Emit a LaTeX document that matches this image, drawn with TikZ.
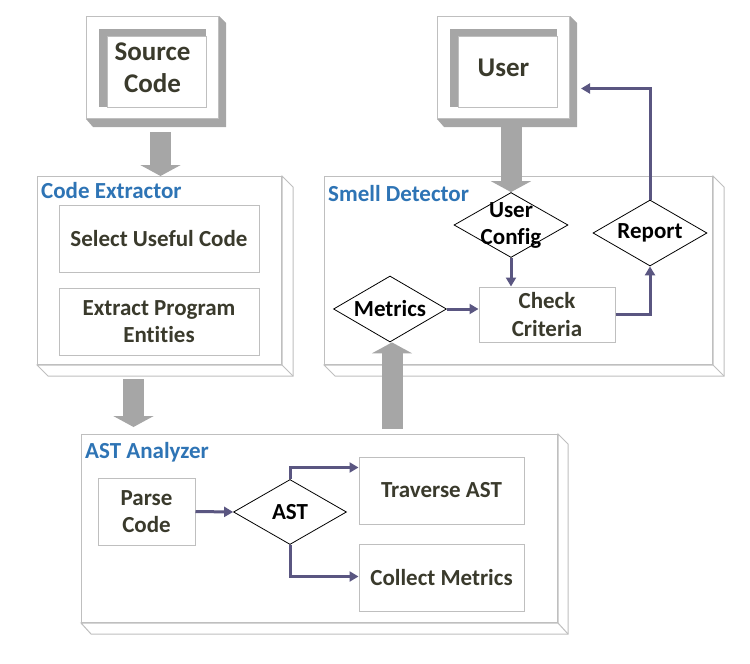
\documentclass[tikz,border=0pt]{standalone}
\usepackage{fontspec}
\setmainfont{Carlito}[Ligatures=NoCommon]
\usetikzlibrary{shapes.geometric,arrows.meta,calc}
\definecolor{txt}{HTML}{3A3A2C}
\definecolor{ttl}{HTML}{2E74B5}
\definecolor{bev}{HTML}{A6A6A6}
\definecolor{edge}{HTML}{BFBFBF}
\definecolor{flow}{HTML}{5A5681}
\begin{document}
\begin{tikzpicture}[x=1pt,y=-1pt,
  bevface/.style={draw=edge, line width=1, fill=white, inner sep=0, anchor=north west, minimum width=132, minimum height=102},
  cont/.style={draw=edge, line width=1, fill=white, inner sep=0, anchor=north west},
  contside/.style={draw=edge, line width=1, fill=white},
  title/.style={text=ttl, font=\fontsize{23}{28}\selectfont\bfseries, anchor=west, inner sep=0},
  bigtxt/.style={text=txt, font=\fontsize{27}{32}\selectfont\bfseries, align=center, inner sep=0},
  procbox/.style={draw=edge, line width=1, fill=white, inner sep=0, text=txt, align=center, font=\fontsize{23}{27.5}\selectfont\bfseries},
  decision/.style={diamond, draw=black, line width=0.8, fill=white, inner sep=0, minimum width=114, minimum height=65},
  dlabel/.style={label={[font=\fontsize{23}{27}\selectfont\bfseries, align=center, text=black, inner sep=0]center:#1}},
  block/.style={draw=bev, line width=21, -{Triangle[width=40pt,length=11pt]}},
  flowline/.style={draw=flow, line width=3, -{Triangle[width=10pt,length=9pt]}}
]
\useasboundingbox (0,0) rectangle (750,664);

% ---------- Source Code ----------
\node[bevface] (src) at (86,16) {};
\fill[bev] (src.north east) -- ++(7,7) -- ($(src.south east)+(7,8)$) -- ($(src.south west)+(7,8)$) -- (src.south west) -- (src.south east) -- cycle;
\fill[bev] ($(src.north west)+(13,13)$) rectangle ($(src.south east)+(-13,-12)$);
\draw[edge, fill=white, line width=1] ($(src.north west)+(21,20)$) rectangle ($(src.south east)+(-13,-12)$);
\node[bigtxt] (srct) at (src.center) {Source\\Code};

% ---------- User ----------
\node[bevface] (usr) at (437,16) {};
\fill[bev] (usr.north east) -- ++(7,7) -- ($(usr.south east)+(7,8)$) -- ($(usr.south west)+(7,8)$) -- (usr.south west) -- (usr.south east) -- cycle;
\fill[bev] ($(usr.north west)+(13,13)$) rectangle ($(usr.south east)+(-13,-12)$);
\draw[edge, fill=white, line width=1] ($(usr.north west)+(21,20)$) rectangle ($(usr.south east)+(-13,-12)$);
\node[bigtxt] (usrt) at (usr.center) {User};

% ---------- Code Extractor ----------
\node[cont, minimum width=244, minimum height=188] (ce) at (37,176) {};
\draw[contside] (ce.north east) -- ++(11,11) -- ($(ce.south east)+(11,11)$) -- ($(ce.south west)+(11,11)$) -- (ce.south west) -- (ce.south east) -- cycle;
\draw[edge, line width=1] (ce.south east) -- ++(11,11);
\node[title] (cet) at (41,191) {Code Extractor};
\node[procbox, minimum width=200, minimum height=67] (sel) at (159,238.5) {Select Useful Code};
\node[procbox, minimum width=200, minimum height=67] (ext) at (159,321.5) {Extract Program\\Entities};

% ---------- Smell Detector ----------
\node[cont, minimum width=388, minimum height=188] (sd) at (324,176) {};
\draw[contside] (sd.north east) -- ++(11,11) -- ($(sd.south east)+(11,11)$) -- ($(sd.south west)+(11,11)$) -- (sd.south west) -- (sd.south east) -- cycle;
\draw[edge, line width=1] (sd.south east) -- ++(11,11);
\node[title] (sdt) at (328,194) {Smell Detector};
\node[decision, dlabel={User\\Config}] (ucfg) at (511,225) {};
\node[decision, dlabel={Report}, minimum height=66] (rep) at (650,233) {};
\node[decision, dlabel={Metrics}, minimum width=113, minimum height=66] (met) at (390,309) {};
\node[procbox, minimum width=136, minimum height=55] (chk) at (547,314.5) {Check\\Criteria};

% ---------- AST Analyzer ----------
\node[cont, minimum width=476, minimum height=188] (aa) at (81,434) {};
\draw[contside] (aa.north east) -- ++(10,10) -- ($(aa.south east)+(10,11)$) -- ($(aa.south west)+(10,11)$) -- (aa.south west) -- (aa.south east) -- cycle;
\draw[edge, line width=1] (aa.south east) -- ++(10,11);
\node[title] (aat) at (85,452) {AST Analyzer};
\node[procbox, minimum width=97, minimum height=67] (parse) at (146.5,511.5) {Parse\\Code};
\node[decision, dlabel={AST}, minimum width=113] (ast) at (290,512) {};
\node[procbox, minimum width=165, minimum height=67] (trav) at (441.5,490.5) {Traverse AST};
\node[procbox, minimum width=165, minimum height=67] (coll) at (441.5,577.5) {Collect Metrics};

% ---------- flow connectors ----------
\coordinate (travin) at ($(trav.north west)+(0,11)$);
\coordinate (collin) at ($(coll.south west)+(0,-35)$);
\coordinate (usrin) at ($(usr.east)+(11,21)$);
\draw[flowline] (parse.east) -- (ast.west);
\draw[flowline] (ast.north) |- (travin);
\draw[flowline] (ast.south) |- (collin);
\draw[flowline] (ucfg.south) -- (ucfg.south |- chk.north);
\draw[flowline] (met.east) -- (met.east -| chk.west);
\draw[flowline] (chk.east) -| (rep.south);
\draw[flowline] (rep.north) |- (usrin);

% ---------- block arrows ----------
\coordinate (a1s) at ($(src.south)+(8,13)$);
\draw[block] (a1s) -- (a1s |- ce.north);
\coordinate (a2s) at ($(ce.south)+(-26,14)$);
\coordinate (a2e) at ($(a2s |- aa.north)+(0,-7)$);
\draw[block] (a2s) -- (a2e);
\draw[block] ($(usr.south -| ucfg.north)+(0,8)$) -- (ucfg.north);
\draw[block] ($(aa.north -| met.south)+(2,-5)$) -- ($(met.south)+(2,0)$);
\end{tikzpicture}
\end{document}
